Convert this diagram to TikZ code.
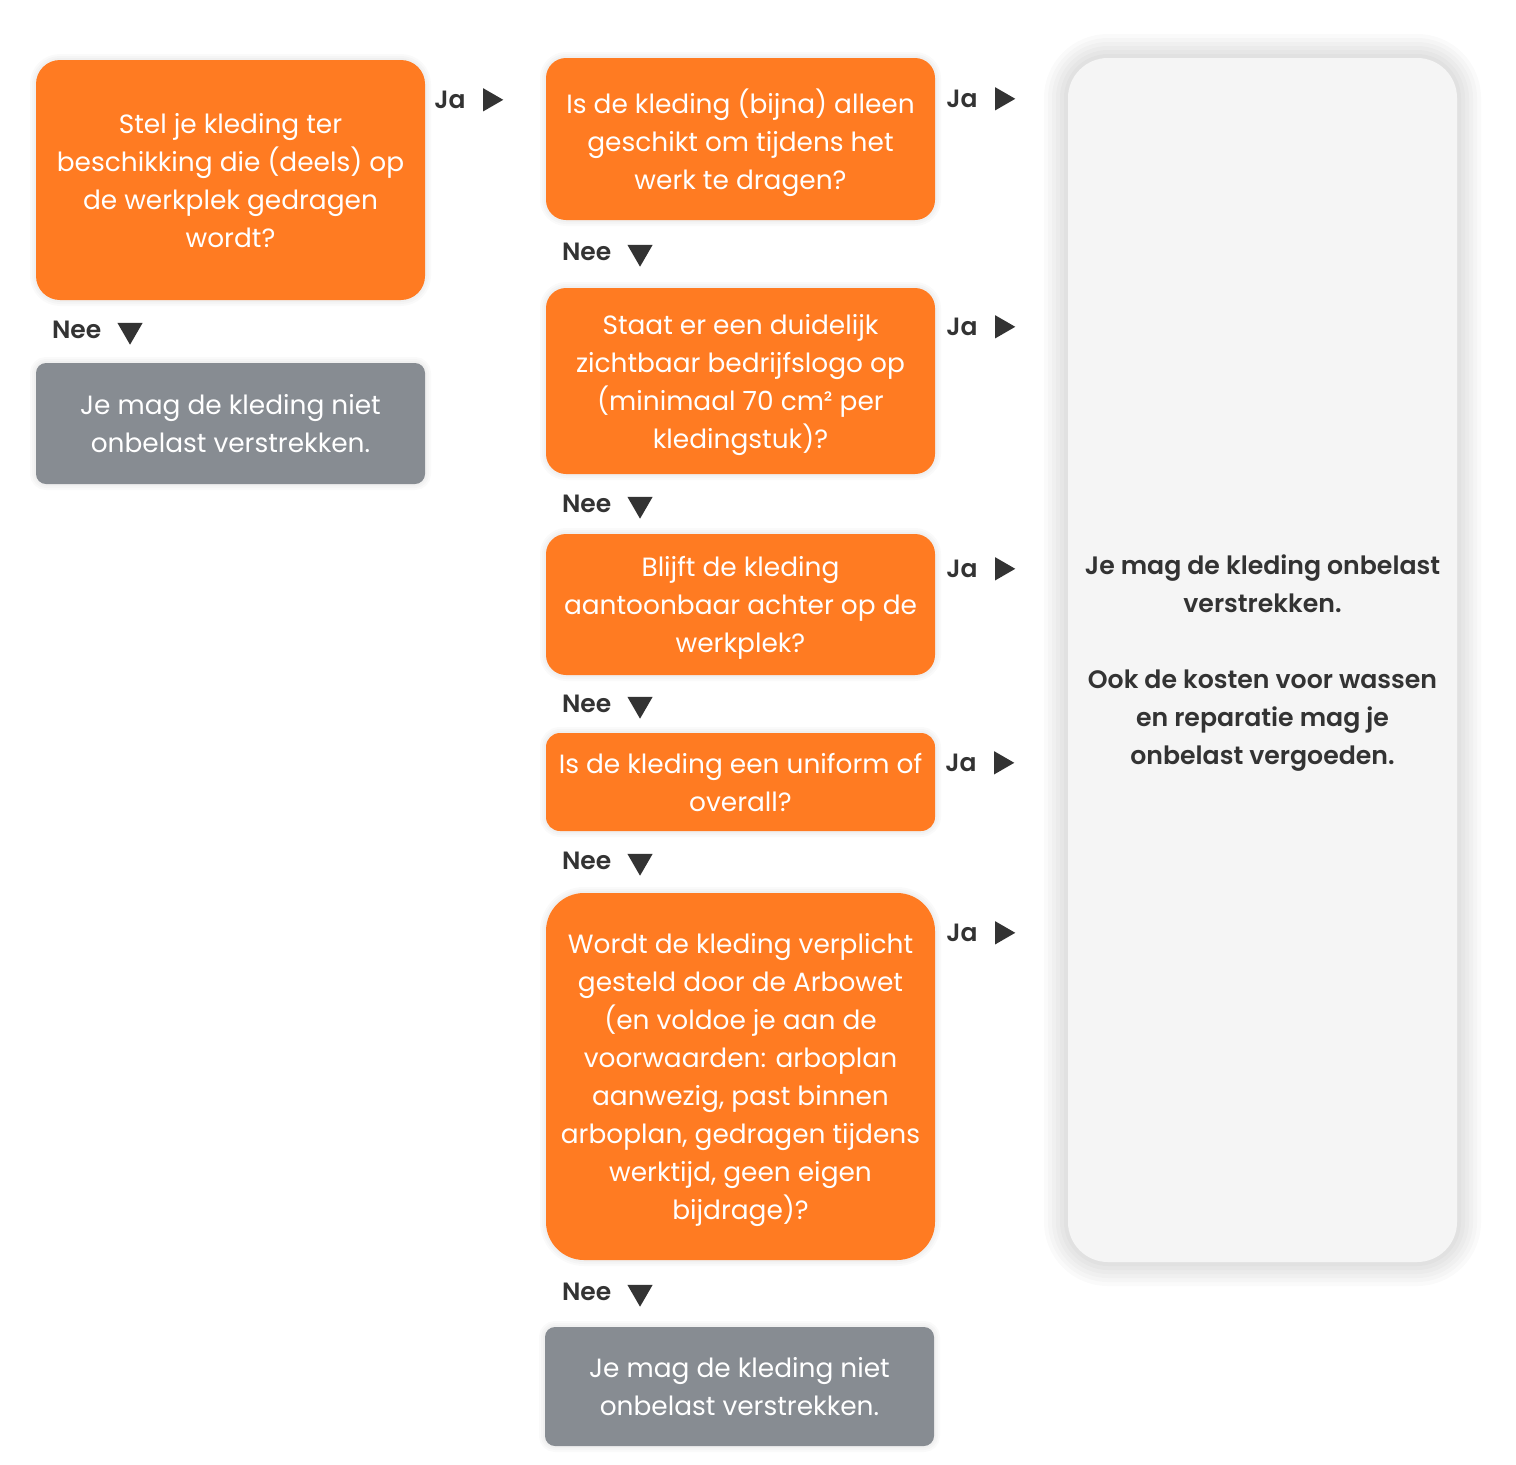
\documentclass[tikz,border=0pt]{standalone}
\usepackage{fontspec}
\setmainfont{Poppins}
\newfontfamily\medfont{Poppins SemiBold}
\usepackage{tikz}
\usetikzlibrary{shapes,positioning}

\definecolor{kOrange}{HTML}{FF7B22}
\definecolor{kGrey}{HTML}{878C92}
\definecolor{kPanel}{HTML}{F5F5F5}
\definecolor{kDark}{HTML}{333333}

\begin{document}
\begin{tikzpicture}[x=1pt, y=-1pt,
        shadowring/.style={preaction={draw=black, draw opacity=0.018, line width=#1}},
        softshadow/.style={shadowring=12pt, shadowring=8pt, shadowring=4pt},
        bigshadow/.style={shadowring=48pt, shadowring=40pt, shadowring=32pt, shadowring=24pt, shadowring=16pt, shadowring=8pt},
        question/.style={rectangle, fill=kOrange, text=white, rounded corners=20pt, minimum width=389pt, inner sep=0pt, align=center, text depth=0pt, font=\fontsize{26.4}{38}\selectfont, softshadow},
        stopbox/.style={rectangle, fill=kGrey, text=white, rounded corners=10pt, minimum width=389pt, inner sep=0pt, align=center, font=\fontsize{26.4}{38}\selectfont, softshadow},
        answer/.style={rectangle, fill=kPanel, text=kDark, rounded corners=40pt, minimum width=389pt, inner sep=0pt, align=center, text depth=0pt, font=\medfont\fontsize{25.2}{38}\selectfont, bigshadow},
        yes/.style={anchor=west, text=kDark, inner sep=0pt, font=\medfont\fontsize{25}{30}\selectfont},
        no/.style={anchor=west, text=kDark, inner sep=0pt, font=\medfont\fontsize{25}{30}\selectfont},
        rightarrow/.style={regular polygon, regular polygon sides=3, shape border rotate=-90, fill=kDark, inner sep=0pt, minimum size=27pt},
        downarrow/.style={regular polygon, regular polygon sides=3, shape border rotate=180, fill=kDark, inner sep=0pt, minimum size=29pt}]

        \useasboundingbox (0,0) rectangle (1516,1465);

        % Answer panel (right)
        \node[answer, minimum height=1204pt] (ok) at (1262.5,660) {Je mag de kleding onbelast\\verstrekken.\\[38pt]Ook de kosten voor wassen\\en reparatie mag je\\onbelast vergoeden.};

        % Start question (left)
        \node[question, rounded corners=24pt, minimum height=240pt] (start) at (230.5,180) {Stel je kleding ter\\beschikking die (deels) op\\de werkplek gedragen\\wordt?};
        \node[stopbox, minimum height=121pt] (stopA) at (230.5,423.5) {Je mag de kleding niet\\onbelast verstrekken.};

        % Questions (middle)
        \node[question, minimum height=162pt] (q1) at (740.5,139) {Is de kleding (bijna) alleen\\geschikt om tijdens het\\werk te dragen?};
        \node[question, minimum height=186pt] (q2) at (740.5,381) {Staat er een duidelijk\\zichtbaar bedrijfslogo op\\(minimaal 70 cm² per\\kledingstuk)?};
        \node[question, minimum height=141pt] (q3) at (740.5,604.5) {Blijft de kleding\\aantoonbaar achter op de\\werkplek?};
        \node[question, rounded corners=14pt, minimum height=98pt] (q4) at (740.5,782) {Is de kleding een uniform of\\overall?};
        \node[question, rounded corners=38pt, minimum height=367pt] (q5) at (740.5,1076.5) {Wordt de kleding verplicht\\gesteld door de Arbowet\\(en voldoe je aan de\\voorwaarden: arboplan\\aanwezig, past binnen\\arboplan, gedragen tijdens\\werktijd, geen eigen\\bijdrage)?};
        \node[stopbox, minimum height=119pt] (stopB) at (739.5,1386.5) {Je mag de kleding niet\\onbelast verstrekken.};

        % Ja labels
        \node[yes] (startja) at ([shift={(9,40)}]start.north east) {Ja};
        \node[yes] (q1ja) at ([shift={(11,41)}]q1.north east) {Ja};
        \node[yes] (q2ja) at ([shift={(11,39)}]q2.north east) {Ja};
        \node[yes] (q3ja) at ([shift={(11,35)}]q3.north east) {Ja};
        \node[yes] (q4ja) at ([shift={(10,30)}]q4.north east) {Ja};
        \node[yes] (q5ja) at ([shift={(11,40)}]q5.north east) {Ja};
        \foreach \n in {startja,q1ja,q2ja,q3ja,q4ja,q5ja}
            \node[rightarrow, right=17pt of \n] (\n tip) {};

        % Nee labels
        \node[no] (startnee) at ([shift={(16,30)}]start.south west) {Nee};
        \node[no] (q1nee) at ([shift={(16,32)}]q1.south west) {Nee};
        \node[no] (q2nee) at ([shift={(16,30)}]q2.south west) {Nee};
        \node[no] (q3nee) at ([shift={(16,29)}]q3.south west) {Nee};
        \node[no] (q4nee) at ([shift={(16,30)}]q4.south west) {Nee};
        \node[no] (q5nee) at ([shift={(16,32)}]q5.south west) {Nee};
        \foreach \n in {startnee,q1nee,q2nee,q3nee,q4nee,q5nee}
            \node[downarrow, right=20pt of \n] (\n tip) {};
    \end{tikzpicture}
\end{document}
